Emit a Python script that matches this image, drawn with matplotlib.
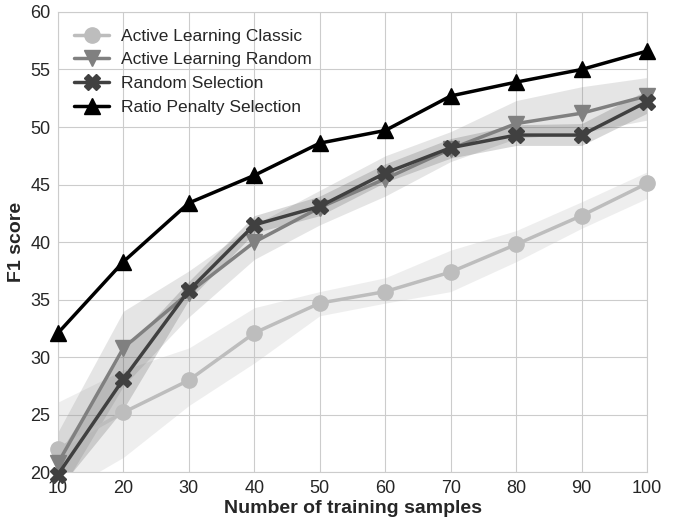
import matplotlib
matplotlib.use("Agg")
import matplotlib.pyplot as plt
import seaborn as sns
import numpy as np

sns.set_style("whitegrid")
plt.rcParams['font.family'] = ['Liberation Sans', 'DejaVu Sans']

samples = [10, 20, 30, 40, 50, 60, 70, 80, 90, 100]

al_classic = [22.0, 25.2, 28.0, 32.1, 34.7, 35.7, 37.4, 39.8, 42.3, 45.1]
al_classic_lo = [18.0, 21.3, 25.8, 29.5, 33.6, 34.7, 35.7, 38.3, 41.2, 43.8]
al_classic_hi = [26.1, 28.9, 30.8, 34.3, 35.7, 36.9, 39.3, 41.0, 43.5, 46.1]

al_random = [20.8, 30.8, 35.6, 40.0, 43.0, 45.5, 48.1, 50.3, 51.2, 52.7]
al_random_lo = [18.0, 27.5, 33.5, 38.5, 41.5, 44.0, 47.0, 49.0, 49.5, 50.6]
al_random_hi = [23.5, 34.0, 37.5, 41.5, 44.5, 47.5, 49.6, 52.3, 53.5, 54.3]

rand_sel = [19.8, 28.1, 35.8, 41.5, 43.1, 46.0, 48.2, 49.3, 49.3, 52.2]
rand_sel_lo = [18.5, 25.5, 35.0, 40.8, 42.3, 45.2, 47.3, 48.4, 48.4, 51.2]
rand_sel_hi = [21.5, 30.5, 36.6, 42.3, 44.0, 46.8, 49.0, 50.2, 50.3, 53.2]

ratio_pen = [32.1, 38.3, 43.4, 45.8, 48.6, 49.7, 52.7, 53.9, 55.0, 56.6]

fig, ax = plt.subplots(figsize=(6.74, 5.19), dpi=100)
fig.subplots_adjust(left=0.086, right=0.96, top=0.977, bottom=0.09)

series = [
    ("Active Learning Classic", al_classic, al_classic_lo, al_classic_hi, "#bdbdbd", "o", 0.25),
    ("Active Learning Random", al_random, al_random_lo, al_random_hi, "#808080", "v", 0.2),
    ("Random Selection", rand_sel, rand_sel_lo, rand_sel_hi, "#404040", "X", 0.2),
]
for name, y, lo, hi, col, mk, a in series:
    ax.fill_between(samples, lo, hi, color=col, alpha=a, linewidth=0)
    ax.plot(samples, y, color=col, marker=mk, markersize=11, linewidth=2.5, label=name,
            clip_on=False, zorder=3)
ax.plot(samples, ratio_pen, color="black", marker="^", markersize=11, linewidth=2.5,
        label="Ratio Penalty Selection", clip_on=False, zorder=4)

ax.set_xlim(10, 100)
ax.set_ylim(20, 60)
ax.set_xticks(samples)
ax.tick_params(labelsize=13, pad=2)
ax.set_xlabel("Number of training samples", fontsize=14, fontweight="bold", labelpad=2)
ax.set_ylabel("F1 score", fontsize=14, fontweight="bold", labelpad=4)
ax.legend(loc="upper left", fontsize=12.5, frameon=False, handlelength=2.0,
          handletextpad=0.7, borderaxespad=0.55, labelspacing=0.5)

fig.savefig("out.png", dpi=100)
